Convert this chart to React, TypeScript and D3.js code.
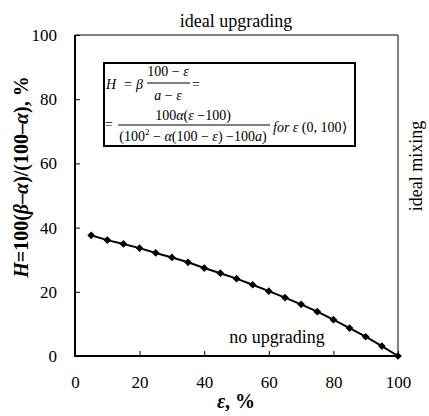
import React, { useEffect, useRef } from 'react';
import * as d3 from 'd3';

// epsilon, % (x) and H, % (y)
const epsilon = [5, 10, 15, 20, 25, 30, 35, 40, 45, 50, 55, 60, 65, 70, 75, 80, 85, 90, 95, 100];
const upgrading = [37.6, 36.1, 34.9, 33.6, 32.1, 30.7, 29.2, 27.4, 25.8, 24.1, 22.2, 20.2, 18.2, 16.1, 13.8, 11.3, 8.7, 6.0, 3.1, 0];
const xTicks = [0, 20, 40, 60, 80, 100];
const yTicks = [0, 20, 40, 60, 80, 100];

const serif = '"Liberation Serif", "Times New Roman", serif';

const Plot = () => {
  const gRef = useRef(null);

  useEffect(() => {
    const svg = d3.select(gRef.current);
    svg.selectAll('*').remove();

    const left = 75, right = 398, top = 35, bottom = 356;
    const x = d3.scaleLinear().domain([0, 100]).range([left, right]);
    const y = d3.scaleLinear().domain([0, 100]).range([bottom, top]);

    const xAxis = svg
      .append('g')
      .attr('transform', `translate(0, ${bottom})`)
      .call(d3.axisBottom(x).tickValues(xTicks).tickSize(-5).tickSizeOuter(0).tickPadding(20));
    const yAxis = svg
      .append('g')
      .attr('transform', `translate(${left}, 0)`)
      .call(d3.axisLeft(y).tickValues(yTicks).tickSize(-5).tickSizeOuter(0).tickPadding(18));

    [xAxis, yAxis].forEach((g) => {
      g.attr('font-family', serif).attr('font-size', 17);
      g.select('.domain').remove();
      g.selectAll('line').attr('stroke', '#000').attr('stroke-width', 1);
      g.selectAll('text').attr('fill', '#000');
    });

    // frame: heavier left / bottom, thin top / right
    svg.append('line').attr('x1', left).attr('x2', right).attr('y1', top).attr('y2', top)
      .attr('stroke', '#000').attr('stroke-width', 1);
    svg.append('line').attr('x1', right).attr('x2', right).attr('y1', top).attr('y2', bottom)
      .attr('stroke', '#000').attr('stroke-width', 1);
    svg.append('line').attr('x1', left).attr('x2', left).attr('y1', top).attr('y2', bottom + 1)
      .attr('stroke', '#000').attr('stroke-width', 2);
    svg.append('line').attr('x1', left - 1).attr('x2', right).attr('y1', bottom).attr('y2', bottom)
      .attr('stroke', '#000').attr('stroke-width', 2);

    const pts = epsilon.map((e, i) => [e, upgrading[i]]);

    svg
      .append('path')
      .datum(pts)
      .attr('fill', 'none')
      .attr('stroke', '#000')
      .attr('stroke-width', 2)
      .attr('d', d3.line().x((d) => x(d[0])).y((d) => y(d[1])));

    const diamond = d3.symbolDiamond2 || d3.symbolDiamond;
    svg
      .selectAll('.mark')
      .data(pts)
      .join('path')
      .attr('class', 'mark')
      .attr('transform', (d) => `translate(${x(d[0])}, ${y(d[1])})`)
      .attr('d', d3.symbol().type(diamond).size(38))
      .attr('fill', '#000');
  }, []);

  return <g ref={gRef} />;
};

const Labels = () => (
  <g fontFamily={serif} fill="#000">
    <text x={236} y={27} fontSize={18} textAnchor="middle">ideal upgrading</text>
    <text x={277} y={343} fontSize={18} textAnchor="middle">no upgrading</text>
    <text transform="translate(422, 166) rotate(-90)" fontSize={18} textAnchor="middle">ideal mixing</text>
    <text x={236} y={408} fontSize={20} fontWeight="bold" textAnchor="middle">
      <tspan fontStyle="italic">ε</tspan>, %
    </text>
    <text transform="translate(28, 177) rotate(-90)" fontSize={20} fontWeight="bold" textAnchor="middle">
      <tspan fontStyle="italic">H</tspan>=100(<tspan fontStyle="italic">β</tspan>–<tspan fontStyle="italic">α</tspan>)/(100–<tspan fontStyle="italic">α</tspan>), %
    </text>
  </g>
);

const Formula = () => (
  <g fontFamily={serif} fill="#000" fontSize={14}>
    <rect x={104} y={63} width={251} height={83} fill="#fff" stroke="#000" strokeWidth={2} />
    <text x={106} y={89} fontStyle="italic">H</text>
    <text x={124} y={89}>=</text>
    <text x={136} y={89} fontStyle="italic">β</text>
    <text x={168} y={76} textAnchor="middle">100 − <tspan fontStyle="italic">ε</tspan></text>
    <line x1={147} x2={190} y1={83} y2={83} stroke="#000" strokeWidth={1} />
    <text x={168} y={100} textAnchor="middle"><tspan fontStyle="italic">a</tspan> − <tspan fontStyle="italic">ε</tspan></text>
    <text x={192} y={89}>=</text>

    <text x={105} y={129}>=</text>
    <text x={193} y={120} textAnchor="middle">100<tspan fontStyle="italic">α</tspan>(<tspan fontStyle="italic">ε</tspan> −100)</text>
    <line x1={118} x2={270} y1={125} y2={125} stroke="#000" strokeWidth={1} />
    <text x={193} y={141} textAnchor="middle">
      (100<tspan dy={-6} fontSize={9}>2</tspan><tspan dy={6}> − </tspan><tspan fontStyle="italic">α</tspan>(100 − <tspan fontStyle="italic">ε</tspan>) −100<tspan fontStyle="italic">a</tspan>)
    </text>
    <text x={273} y={132}>
      <tspan fontStyle="italic">for ε</tspan> (0, 100⟩
    </text>
  </g>
);

export default function App() {
  return (
    <svg
      width={429}
      height={416}
      style={{ position: 'absolute', left: 0, top: 0, background: '#fff' }}
    >
      <Plot />
      <Formula />
      <Labels />
    </svg>
  );
}
